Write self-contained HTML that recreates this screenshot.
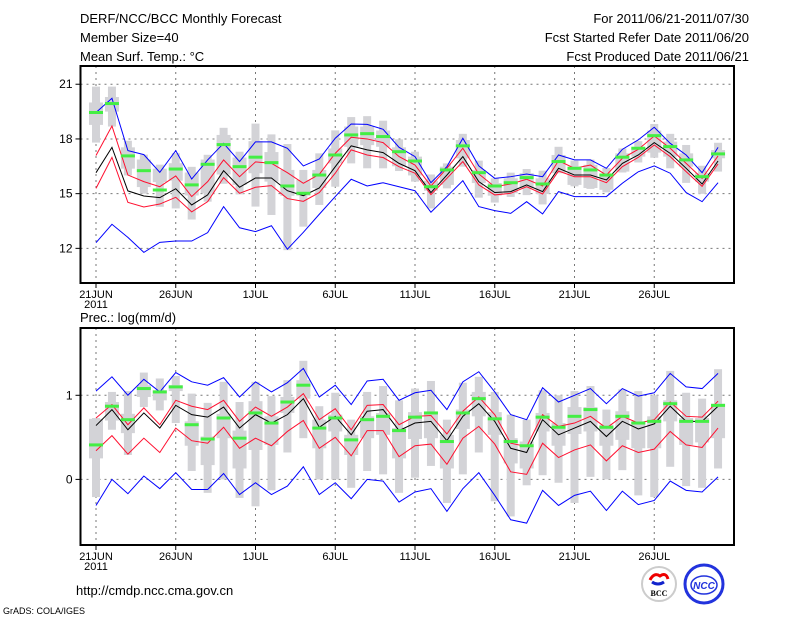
<!DOCTYPE html>
<html><head><meta charset="utf-8"><style>
body{margin:0;background:#fff;width:800px;height:618px;overflow:hidden;font-family:"Liberation Sans",sans-serif}
svg text{font-family:"Liberation Sans",sans-serif;fill:#000}
</style></head><body>
<svg id="chart" width="800" height="618" xmlns="http://www.w3.org/2000/svg">
<g font-size="13">
<text x="80" y="23">DERF/NCC/BCC Monthly Forecast</text>
<text x="80" y="42">Member Size=40</text>
<text x="80" y="61">Mean Surf. Temp.: °C</text>
</g>
<g font-size="13" text-anchor="end">
<text x="749" y="23">For 2011/06/21-2011/07/30</text>
<text x="749" y="42">Fcst Started Refer Date 2011/06/20</text>
<text x="749" y="61">Fcst Produced Date 2011/06/21</text>
</g>
<text x="80" y="322" font-size="13">Prec.: log(mm/d)</text>
<text x="76" y="595" font-size="13">http://cmdp.ncc.cma.gov.cn</text>
<text x="3" y="614" font-size="9">GrADS: COLA/IGES</text>
<g>
<circle cx="659" cy="584" r="17" fill="#fff" stroke="#ccc" stroke-width="2"/>
<path d="M650 580 q4 -8 10 -4 q6 -4 8 3" fill="none" stroke="#e00" stroke-width="3"/>
<path d="M652 582 q6 4 12 0" fill="none" stroke="#12c" stroke-width="3"/>
<text x="659" y="596" font-size="8" text-anchor="middle" font-weight="bold" style="font-family:'Liberation Serif',serif">BCC</text>
</g>
<g>
<circle cx="704" cy="584" r="19" fill="#fff" stroke="#23d" stroke-width="3"/>
<ellipse cx="704" cy="585" rx="13" ry="9" fill="none" stroke="#23d" stroke-width="1.5"/>
<text x="704" y="589" font-size="10" text-anchor="middle" font-style="italic" font-weight="bold" fill="#23d" style="fill:#23d">NCC</text>
</g>
<g id="top"></g>
<g id="bot"></g>
</svg>
<script>
const days=40;
const tickIdx=[0,5,10,15,20,25,30,35];
const tickLabels=["21JUN","26JUN","1JUL","6JUL","11JUL","16JUL","21JUL","26JUL"];
// Temperature panel
const tYTicks=[12,15,18,21];
const tMax=[19.45,20.23,17.36,17.14,16.17,17.36,15.8,16.85,17.76,16.76,17.84,17.84,17.49,16.52,16.9,18.04,18.82,18.8,18.53,17.54,17.03,15.6,16.48,18.04,16.52,15.84,15.93,16.08,15.93,17.12,16.85,16.85,16.39,17.43,17.95,18.64,17.76,17.12,16.15,17.54];
const tRedUp=[17.09,18.71,16.02,15.66,15.38,15.97,14.84,15.66,16.85,15.93,16.74,16.66,16.15,15.57,16.06,17.21,18.09,18.0,17.8,17.03,16.57,15.42,16.39,17.49,16.08,15.38,15.53,15.79,15.42,16.81,16.39,16.57,16.02,16.94,17.43,18.16,17.49,16.66,15.84,17.07];
const tMean=[16.15,17.54,15.15,14.87,14.78,15.27,14.38,14.93,16.26,15.35,15.86,15.86,15.16,14.89,15.31,16.48,17.62,17.4,17.25,16.66,16.26,15.06,16.02,17.03,15.66,15.06,15.11,15.48,15.11,16.39,16.02,16.02,15.75,16.66,17.12,17.8,17.21,16.39,15.53,16.79];
const tRedLo=[15.29,16.99,14.52,14.27,14.43,14.8,14.0,14.56,15.88,15.02,15.35,15.44,14.73,14.58,15.06,16.12,17.4,17.12,16.98,16.48,16.12,14.95,15.84,16.76,15.48,14.93,15.02,15.38,14.98,16.24,15.93,15.93,15.6,16.48,16.99,17.67,17.03,16.21,15.4,16.63];
const tMin=[12.31,13.32,12.6,11.78,12.33,12.4,12.4,12.86,14.29,13.13,12.92,13.24,11.95,12.88,13.87,14.84,15.79,15.42,15.6,15.38,15.16,13.98,14.84,15.71,14.29,14.07,13.92,14.56,13.89,15.11,14.84,14.84,14.84,15.57,16.2,16.52,16.12,15.06,14.56,15.6];
const tObs=[19.45,19.94,17.07,16.26,15.2,16.35,15.48,16.61,17.69,16.48,17.0,16.7,15.42,15.02,16.02,17.12,18.22,18.29,18.13,17.3,16.79,15.38,16.3,17.62,16.15,15.42,15.6,15.88,15.53,16.76,16.39,16.3,16.02,17.0,17.49,18.18,17.58,16.85,15.93,17.18];
const tWhiskHi=[20.87,20.87,17.9,17.14,16.59,17.22,16.47,17.13,18.61,17.3,18.84,18.25,17.72,16.3,17.21,18.47,19.2,19.25,19.0,17.98,17.3,16.05,16.66,18.28,16.81,15.84,16.15,16.35,16.26,17.57,16.81,16.87,16.41,17.48,17.88,18.82,18.28,17.67,16.53,17.79];
const tWhiskLo=[17.8,18.68,16.0,15.0,14.28,14.19,13.58,14.56,15.54,14.96,14.29,13.83,11.9,13.19,14.38,15.38,16.66,16.39,16.39,16.24,15.66,14.19,15.29,16.48,14.78,14.51,14.82,14.92,14.41,16.13,15.4,15.26,15.07,16.16,16.71,16.97,16.39,15.59,14.99,16.21];
const tBoxHi=[20.0,20.3,17.54,16.87,16.37,16.67,16.16,16.87,18.22,16.98,17.88,17.28,16.3,15.75,16.3,17.48,18.68,18.68,18.46,17.54,17.03,15.71,16.48,17.94,16.3,15.58,15.84,16.12,15.84,17.12,16.48,16.58,16.08,17.21,17.49,18.46,17.85,17.21,16.12,17.39];
const tBoxLo=[18.77,19.5,16.37,15.36,15.63,15.71,14.9,15.02,16.05,15.48,16.12,15.66,14.88,14.89,15.31,16.66,17.57,17.66,17.57,16.5,16.0,15.16,15.48,16.94,15.58,14.89,15.02,15.29,14.98,16.12,15.48,15.31,15.21,16.21,17.03,17.25,17.03,16.48,15.66,16.94];
// Precip panel
const pYTicks=[0,1];
const pMax=[1.05,1.22,1.0,1.19,1.04,1.27,1.16,1.12,1.21,0.98,1.16,1.04,1.15,1.32,0.98,1.12,0.89,1.17,1.19,0.94,1.03,1.06,0.83,1.16,1.28,1.04,0.77,0.71,1.09,0.92,1.0,1.08,0.9,1.08,0.99,1.03,1.26,1.1,1.08,1.26];
const pRedUp=[0.73,0.89,0.65,0.85,0.65,0.94,0.87,0.83,0.94,0.69,0.86,0.75,0.86,1.02,0.71,0.84,0.59,0.88,0.89,0.65,0.75,0.76,0.54,0.81,0.98,0.77,0.43,0.39,0.77,0.63,0.67,0.75,0.61,0.75,0.67,0.71,0.92,0.75,0.74,0.93];
const pMean=[0.64,0.83,0.59,0.79,0.61,0.88,0.77,0.74,0.86,0.61,0.77,0.67,0.77,0.96,0.62,0.75,0.53,0.81,0.83,0.58,0.67,0.69,0.46,0.75,0.9,0.69,0.37,0.32,0.71,0.53,0.61,0.69,0.51,0.69,0.6,0.66,0.87,0.69,0.69,0.87];
const pRedLo=[0.34,0.52,0.3,0.49,0.32,0.61,0.46,0.43,0.62,0.37,0.49,0.4,0.57,0.7,0.37,0.5,0.28,0.58,0.58,0.27,0.4,0.42,0.18,0.49,0.63,0.42,0.09,0.06,0.43,0.26,0.35,0.41,0.22,0.4,0.32,0.36,0.57,0.41,0.38,0.61];
const pMin=[-0.31,0.0,-0.17,0.04,-0.11,0.08,-0.12,-0.12,0.07,-0.18,-0.04,-0.18,-0.08,0.15,-0.18,-0.04,-0.23,0.0,-0.02,-0.27,-0.15,-0.11,-0.38,-0.11,0.08,-0.19,-0.48,-0.52,-0.13,-0.31,-0.19,-0.14,-0.37,-0.14,-0.3,-0.25,-0.02,-0.13,-0.15,0.03];
const pObs=[0.41,0.87,0.71,1.08,1.04,1.1,0.65,0.48,0.73,0.49,0.79,0.67,0.92,1.12,0.61,0.73,0.47,0.71,0.75,0.58,0.74,0.79,0.45,0.79,0.96,0.72,0.45,0.4,0.74,0.62,0.75,0.83,0.62,0.75,0.67,0.69,0.9,0.69,0.69,0.88];
const pWhiskHi=[0.73,1.04,1.05,1.27,1.2,1.23,1.02,0.91,1.16,0.92,1.16,0.99,1.18,1.41,0.87,1.03,0.71,1.04,1.11,0.94,1.08,1.17,0.71,1.15,1.22,1.04,0.77,0.71,1.06,1.0,1.05,1.11,0.83,1.07,1.05,1.0,1.29,1.03,0.96,1.31];
const pWhiskLo=[-0.21,0.59,0.29,0.86,0.82,0.67,0.1,-0.16,0.0,-0.22,-0.32,-0.13,0.32,0.49,0.0,0.0,-0.1,0.1,0.06,-0.16,0.02,0.16,-0.28,0.06,0.32,-0.26,-0.44,-0.07,0.05,-0.04,-0.28,0.03,0.0,0.11,-0.19,-0.21,0.15,-0.08,-0.1,0.13];
const pBoxHi=[0.72,0.92,0.78,1.12,1.06,1.12,0.69,0.51,0.78,0.58,0.93,0.75,0.98,1.18,0.71,0.77,0.53,0.75,0.79,0.61,0.8,0.8,0.53,0.83,1.04,0.8,0.49,0.45,0.79,0.67,0.86,0.86,0.65,0.81,0.69,0.75,0.94,0.73,0.73,0.9];
const pBoxLo=[0.25,0.7,0.55,0.98,0.94,1.05,0.4,0.17,0.49,0.13,0.35,0.41,0.79,0.96,0.37,0.57,0.29,0.49,0.53,0.25,0.48,0.49,0.13,0.6,0.75,0.53,0.19,0.13,0.57,0.4,0.54,0.57,0.4,0.47,0.37,0.37,0.69,0.41,0.44,0.49];

const NS='http://www.w3.org/2000/svg';
const xLeft=80.5,xRight=734,day0X=96,dayStep=15.95;
function xs(i){return day0X+i*dayStep;}
function mk(parent,tag,attrs){const e=document.createElementNS(NS,tag);for(const k in attrs)e.setAttribute(k,attrs[k]);parent.appendChild(e);return e;}

function panel(g,top,bot,vTop,vBot,yTicks,S,yLabelFmt){
  const ys=v=>top+(vTop-v)/(vTop-vBot)*(bot-top);
  // grid
  tickIdx.forEach(i=>{const l=mk(g,'line',{x1:xs(i),x2:xs(i),y1:top,y2:bot,stroke:'#777','stroke-dasharray':'2,4','stroke-width':1});
    
    });
  yTicks.forEach(v=>{const l=mk(g,'line',{x1:xLeft,x2:xRight,y1:ys(v),y2:ys(v),stroke:'#777','stroke-dasharray':'2,4','stroke-width':1});
    
    
    const t=mk(g,'text',{x:xLeft-8,y:ys(v)+4,'font-size':12,'text-anchor':'end'});t.textContent=yLabelFmt(v);
    
    
    const tk=mk(g,'line',{x1:xLeft-5,x2:xLeft,y1:ys(v),y2:ys(v),stroke:'#000'});
    
    });
  // boxes
  for(let i=0;i<days;i++){
    const w=mk(g,'rect',{x:xs(i)-4,y:ys(S.wh[i]),width:8,height:Math.max(1,ys(S.wl[i])-ys(S.wh[i])),fill:'#d3d3d7'});
    
    
    const b=mk(g,'rect',{x:xs(i)-7,y:ys(S.bh[i]),width:14,height:Math.max(1,ys(S.bl[i])-ys(S.bh[i])),fill:'#d3d3d7'});
    
    
  }
  const lines=[[S.max,'#0000ff','max-line'],[S.min,'#0000ff','min-line'],[S.ru,'#ff1030','upper-red-line'],[S.rl,'#ff1030','lower-red-line'],[S.mean,'#000','mean-line']];
  lines.forEach(([arr,c,n])=>{const p=mk(g,'polyline',{points:arr.map((v,i)=>xs(i)+','+ys(v)).join(' '),fill:'none',stroke:c,'stroke-width':1});
    
    });
  for(let i=0;i<days;i++){
    const r=mk(g,'rect',{x:xs(i)-7,y:ys(S.obs[i])-1.5,width:14,height:3,fill:'#44ee44'});
    
    
  }
  // frame
  const f=mk(g,'rect',{x:xLeft,y:top,width:xRight-xLeft,height:bot-top,fill:'none',stroke:'#000','stroke-width':2});
  
  
  tickIdx.forEach((i,k)=>{const tk=mk(g,'line',{x1:xs(i),x2:xs(i),y1:bot,y2:bot+5,stroke:'#000'});
    
    
    const t=mk(g,'text',{x:xs(i),y:bot+15,'font-size':11,'text-anchor':'middle'});t.textContent=tickLabels[k];
    
    });
  const yr=mk(g,'text',{x:xs(0),y:bot+25,'font-size':11,'text-anchor':'middle'});yr.textContent='2011';
  
  
}
panel(document.getElementById('top'),66,283,22.0,10.1,tYTicks,{max:tMax,ru:tRedUp,mean:tMean,rl:tRedLo,min:tMin,obs:tObs,wh:tWhiskHi,wl:tWhiskLo,bh:tBoxHi,bl:tBoxLo},v=>String(v));
panel(document.getElementById('bot'),328,545,1.80,-0.78,pYTicks,{max:pMax,ru:pRedUp,mean:pMean,rl:pRedLo,min:pMin,obs:pObs,wh:pWhiskHi,wl:pWhiskLo,bh:pBoxHi,bl:pBoxLo},v=>String(v));
</script>
</body></html>
